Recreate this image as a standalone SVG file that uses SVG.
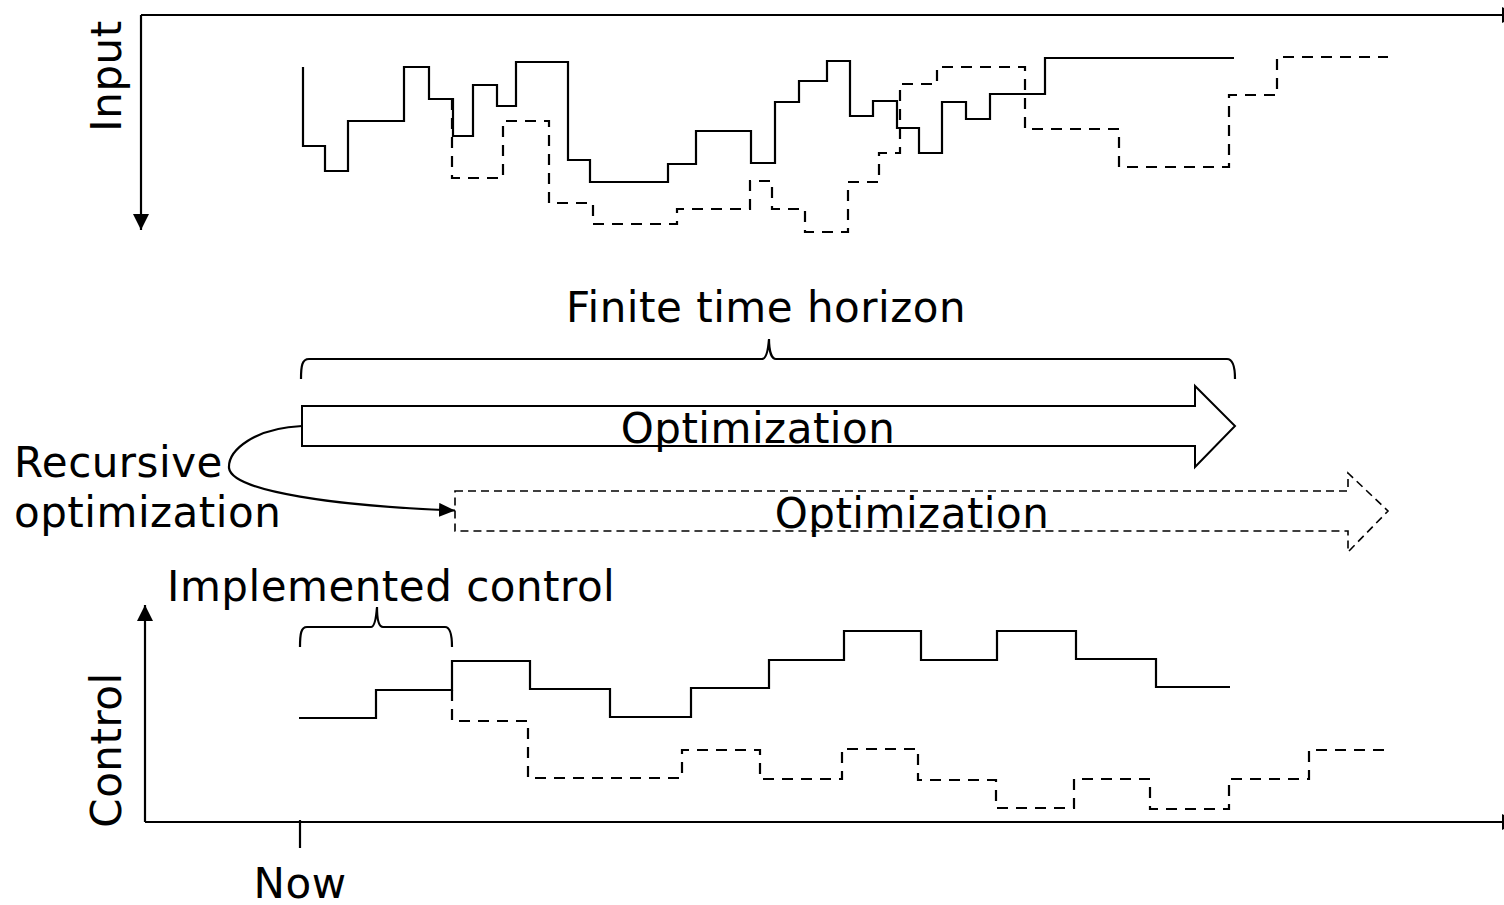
<svg xmlns="http://www.w3.org/2000/svg" width="1504" height="905" viewBox="0 0 1504 905">
  <defs>
    <marker id="ax" viewBox="0 0 16 16" refX="16" refY="8" markerWidth="16" markerHeight="16" markerUnits="userSpaceOnUse" orient="auto">
      <path d="M0,0 L16,8 L0,16 Z" fill="#000"/>
    </marker>
    <marker id="tip" viewBox="0 0 16 14" refX="16" refY="7" markerWidth="16" markerHeight="14" markerUnits="userSpaceOnUse" orient="auto">
      <path d="M0,0 L16,7 L0,14 Z" fill="#000"/>
    </marker>
  </defs>
  <style>
    .ln { fill: none; stroke: #000; stroke-width: 2.2; }
    .dash { stroke-dasharray: 11 8; }
    .blk { fill: #fff; stroke: #000; stroke-width: 2; }
    .blkd { fill: #fff; stroke: #000; stroke-width: 1.6; stroke-dasharray: 8 5; }
    .t { font-family: "DejaVu Sans", Verdana, sans-serif; font-size: 42px; letter-spacing: 0.5px; fill: #000; }
  </style>
  <rect width="1504" height="905" fill="#fff"/>

  <!-- input axes -->
  <g id="input-axes">
    <path class="ln" d="M141,15 H1518" marker-end="url(#ax)"/>
    <path class="ln" d="M141,15 V230" marker-end="url(#ax)"/>
    <text class="t" transform="translate(121,76) rotate(-90)" text-anchor="middle">Input</text>
  </g>

  <!-- input trajectories -->
  <g id="input-current">
    <path class="ln" d="M303,67 V146 H325 V171 H348 V121 H404 V67 H429 V99 H453 V136 H473 V85 H497 V106 H516 V62 H568 V160 H590 V182 H668 V164 H696 V131 H751 V163 H775 V102 H799 V81 H827 V61 H850 V116 H873 V101 H897 V128 H919 V153 H942 V102 H966 V119 H990 V94 H1045 V58 H1234"/>
  </g>
  <g id="input-next">
    <path class="ln dash" d="M452,99 V178 H503 V121 H549 V203 H593 V224 H677 V209 H750 V181 H772 V209 H805 V232 H848 V182 H879 V153 H900 V84 H937 V67 H1025 V129 H1119 V167 H1229 V95 H1277 V57 H1388"/>
  </g>

  <!-- horizon brace -->
  <g id="horizon">
    <path class="ln" d="M301,379 C301,366 302,359 309,359 H762 C766,359 768,352 769,339 C769,352 772,359 776,359 H1227 C1233,359 1235,366 1235,379"/>
    <text class="t" x="766" y="322" text-anchor="middle">Finite time horizon</text>
  </g>

  <!-- optimization arrows -->
  <g id="optimization-1">
    <path class="blk" d="M302,406 H1195 V386 L1235,426 L1195,467 V446 H302 Z"/>
    <text class="t" x="758" y="443" text-anchor="middle">Optimization</text>
  </g>
  <g id="optimization-2">
    <path class="blkd" d="M455,491 H1348 V473 L1388,511 L1348,552 V531 H455 Z"/>
    <text class="t" x="912" y="528" text-anchor="middle">Optimization</text>
  </g>

  <!-- recursion label -->
  <g id="recursive">
    <text class="t" x="14" y="477">Recursive</text>
    <text class="t" x="14" y="527">optimization</text>
  </g>

  <g id="connectors">
    <path class="ln" d="M302,426 C255,428 228,450 229,468 C232,492 340,506 455,510.5" marker-end="url(#tip)"/>
  </g>

  <!-- control axes -->
  <g id="control-axes">
    <path class="ln" d="M145,822 V605" marker-end="url(#ax)"/>
    <path class="ln" d="M145,822 H1518" marker-end="url(#ax)"/>
    <text class="t" transform="translate(121,750) rotate(-90)" text-anchor="middle">Control</text>
  </g>

  <!-- implemented control brace -->
  <g id="implemented">
    <path class="ln" d="M300,647 C300,634 301,627 307,627 H371 C374,627 376,620 377,607 C377,620 379,627 383,627 H445 C450,627 452,634 452,647"/>
    <text class="t" x="167" y="601">Implemented control</text>
  </g>

  <!-- control trajectories -->
  <g id="control-current">
    <path class="ln" d="M299,718 H376 V690 H452 V661 H530 V689 H610 V717 H691 V688 H769 V660 H844 V631 H921 V660 H997 V631 H1076 V659 H1156 V687 H1230"/>
  </g>
  <g id="control-next">
    <path class="ln dash" d="M452,690 V721 H528 V778 H682 V750 H760 V779 H842 V749 H918 V780 H996 V808 H1074 V779 H1150 V809 H1229 V779 H1309 V750 H1386"/>
  </g>

  <!-- current time marker -->
  <g id="now">
    <path class="ln" d="M300,820 V848"/>
    <text class="t" x="300" y="898" text-anchor="middle">Now</text>
  </g>
</svg>
